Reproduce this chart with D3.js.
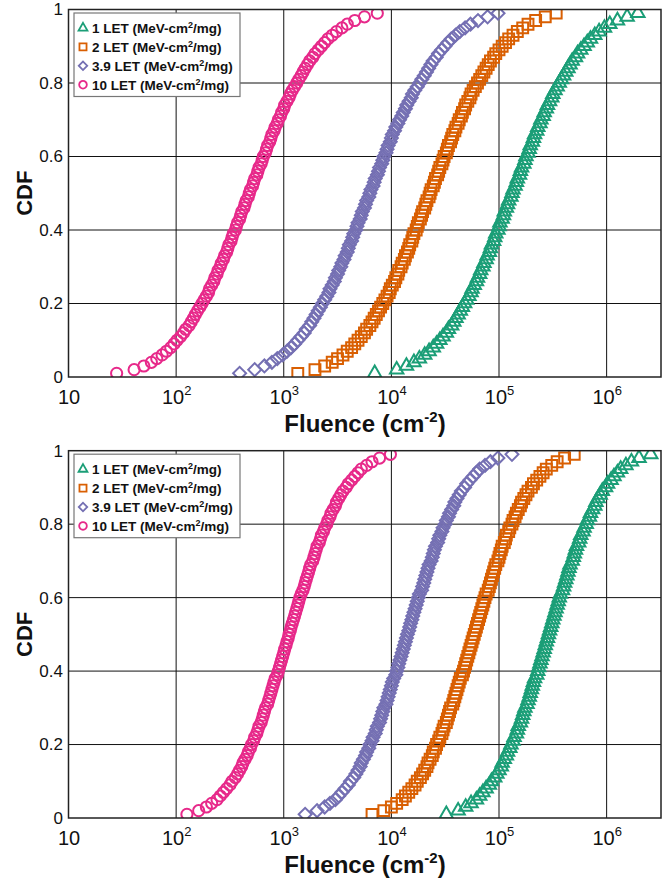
<!DOCTYPE html>
<meta charset="utf-8">
<style>
    body { margin: 0; background: #fff; }
    svg text { font-family: 'Liberation Sans', Arial, sans-serif; fill: #111; }
</style>
<svg width="672" height="882"></svg>
<script src="https://cdn.jsdelivr.net/npm/d3@7/dist/d3.min.js"></script>
<script>
    // cumulative probability of every plotted marker
    var cdfLevels = [0.01, 0.02, 0.03, 0.04, 0.05, 0.06, 0.07, 0.08, 0.09, 0.10,
        0.11, 0.12, 0.13, 0.14, 0.15, 0.16, 0.17, 0.18, 0.19, 0.20,
        0.21, 0.22, 0.23, 0.24, 0.25, 0.26, 0.27, 0.28, 0.29, 0.30,
        0.31, 0.32, 0.33, 0.34, 0.35, 0.36, 0.37, 0.38, 0.39, 0.40,
        0.41, 0.42, 0.43, 0.44, 0.45, 0.46, 0.47, 0.48, 0.49, 0.50,
        0.51, 0.52, 0.53, 0.54, 0.55, 0.56, 0.57, 0.58, 0.59, 0.60,
        0.61, 0.62, 0.63, 0.64, 0.65, 0.66, 0.67, 0.68, 0.69, 0.70,
        0.71, 0.72, 0.73, 0.74, 0.75, 0.76, 0.77, 0.78, 0.79, 0.80,
        0.81, 0.82, 0.83, 0.84, 0.85, 0.86, 0.87, 0.88, 0.89, 0.90,
        0.91, 0.92, 0.93, 0.94, 0.95, 0.96, 0.97, 0.98, 0.99];

    // fluence (cm^-2) for each cdf level, top panel
    var topLet1 = [7000, 11200, 13800, 16200, 18200, 20400, 22400, 24500, 26300, 28200, 30200, 32400, 33900, 36300, 38000, 39800, 41700, 43700, 45700, 47900, 50100, 52500, 55000, 56200, 58900, 61700, 63100, 66100, 67600, 70800, 72400, 75900, 77600, 81300, 83200, 85100, 89100, 91200, 93300, 97700, 100000, 102000, 107000, 110000, 112000, 117000, 120000, 123000, 129000, 132000,
        135000, 141000, 145000, 148000, 155000, 158000, 162000, 170000, 174000, 178000, 186000, 191000, 195000, 204000, 209000, 214000, 224000, 229000, 240000, 245000, 257000, 263000, 275000, 282000, 295000, 309000, 316000, 331000, 347000, 363000, 380000, 398000, 417000, 437000, 457000, 479000, 513000, 537000, 575000, 617000, 661000, 708000, 776000, 851000, 955000, 1070000, 1260000, 1550000, 1950000];
    var topLet2 = [1350, 1950, 2400, 2820, 3160, 3550, 3890, 4270, 4570, 4900, 5250, 5620, 5890, 6310, 6610, 6920, 7240, 7590, 7940, 8320, 8710, 9120, 9550, 9770, 10200, 10700, 11000, 11500, 11700, 12300, 12600, 13200, 13500, 14100, 14500, 14800, 15500, 15800, 16200, 17000, 17400, 17800, 18600, 19100, 19500, 20400, 20900, 21400, 22400, 22900,
        23400, 24500, 25100, 25700, 26900, 27500, 28200, 29500, 30200, 30900, 32400, 33100, 33900, 35500, 36300, 37200, 38900, 39800, 41700, 42700, 44700, 45700, 47900, 49000, 51300, 53700, 55000, 57500, 60300, 63100, 66100, 69200, 72400, 75900, 79400, 83200, 89100, 93300, 100000, 107000, 115000, 123000, 135000, 148000, 166000, 186000, 219000, 269000, 340000];
    var topLet39 = [389, 537, 661, 776, 871, 977, 1070, 1170, 1260, 1350, 1450, 1550, 1620, 1740, 1820, 1910, 2000, 2090, 2190, 2290, 2400, 2510, 2630, 2690, 2820, 2950, 3020, 3160, 3240, 3390, 3470, 3630, 3720, 3890, 3980, 4070, 4270, 4370, 4470, 4680, 4790, 4900, 5130, 5250, 5370, 5620, 5750, 5890, 6170, 6310,
        6460, 6760, 6920, 7080, 7410, 7590, 7760, 8130, 8320, 8510, 8910, 9120, 9330, 9770, 10000, 10200, 10700, 11000, 11500, 11900, 12500, 12900, 13500, 13900, 14600, 15300, 15700, 16500, 17400, 18300, 19200, 20200, 21200, 22200, 23300, 24400, 26100, 27400, 29300, 31400, 33600, 36000, 39500, 43200, 48400, 54300, 63800, 78300, 98000];
    var topLet10 = [28, 40.7, 50.1, 58.9, 66.1, 74.1, 81.3, 89.1, 95.5, 102, 110, 117, 123, 132, 138, 145, 151, 158, 166, 174, 182, 191, 200, 204, 214, 224, 229, 240, 245, 257, 263, 275, 282, 295, 302, 309, 324, 331, 339, 355, 363, 372, 389, 398, 407, 427, 437, 447, 468, 479,
        490, 513, 525, 537, 562, 575, 589, 617, 631, 646, 676, 692, 708, 741, 759, 776, 813, 832, 871, 891, 933, 955, 1000, 1020, 1070, 1120, 1150, 1200, 1260, 1320, 1380, 1450, 1510, 1580, 1660, 1740, 1860, 1950, 2090, 2240, 2400, 2570, 2820, 3090, 3470, 3890, 4570, 5620, 7400];

    // bottom panel
    var bottomLet1 = [32400, 41700, 49000, 55000, 61700, 66100, 70800, 75900, 81300, 85100, 91200, 95500, 100000, 105000, 107000, 112000, 117000, 120000, 126000, 129000, 135000, 138000, 145000, 148000, 151000, 158000, 162000, 166000, 170000, 174000, 182000, 186000, 191000, 195000, 200000, 204000, 209000, 214000, 224000, 229000, 234000, 240000, 245000, 251000, 257000, 263000, 269000, 275000, 282000, 288000,
        295000, 302000, 309000, 316000, 324000, 331000, 339000, 347000, 355000, 363000, 372000, 389000, 398000, 407000, 417000, 427000, 437000, 447000, 457000, 479000, 490000, 501000, 513000, 525000, 550000, 562000, 575000, 603000, 617000, 646000, 661000, 692000, 708000, 741000, 776000, 794000, 832000, 871000, 912000, 977000, 1020000, 1100000, 1170000, 1260000, 1350000, 1510000, 1700000, 2000000, 2570000];
    var bottomLet2 = [6610, 8510, 10000, 11200, 12600, 13500, 14500, 15500, 16600, 17400, 18600, 19500, 20400, 21400, 21900, 22900, 24000, 24500, 25700, 26300, 27500, 28200, 29500, 30200, 30900, 32400, 33100, 33900, 34700, 35500, 37200, 38000, 38900, 39800, 40700, 41700, 42700, 43700, 45700, 46800, 47900, 49000, 50100, 51300, 52500, 53700, 55000, 56200, 57500, 58900,
        60300, 61700, 63100, 64600, 66100, 67600, 69200, 70800, 72400, 74100, 75900, 79400, 81300, 83200, 85100, 87100, 89100, 91200, 93300, 97700, 100000, 102000, 105000, 107000, 112000, 115000, 117000, 123000, 126000, 132000, 135000, 141000, 145000, 151000, 158000, 162000, 170000, 178000, 186000, 200000, 209000, 224000, 240000, 257000, 275000, 309000, 347000, 407000, 500000];
    var bottomLet39 = [1580, 2040, 2400, 2690, 3020, 3240, 3470, 3720, 3980, 4170, 4470, 4680, 4900, 5130, 5250, 5500, 5750, 5890, 6170, 6310, 6610, 6760, 7080, 7240, 7410, 7760, 7940, 8130, 8320, 8510, 8910, 9120, 9330, 9550, 9770, 10000, 10200, 10500, 11000, 11200, 11500, 11700, 12000, 12300, 12600, 12900, 13200, 13500, 13800, 14100,
        14500, 14800, 15100, 15500, 15800, 16200, 16600, 17000, 17400, 17800, 18200, 19100, 19500, 20000, 20400, 20900, 21400, 21900, 22400, 23400, 24000, 24500, 25100, 25700, 26900, 27500, 28200, 29500, 30200, 31600, 32400, 33900, 34700, 36300, 38000, 38900, 40700, 42700, 44700, 47900, 50100, 53700, 57500, 61700, 66100, 74100, 83200, 97700, 132000];
    var bottomLet10 = [126, 162, 191, 214, 240, 257, 275, 295, 316, 331, 355, 372, 389, 407, 417, 437, 457, 468, 490, 501, 525, 537, 562, 575, 589, 617, 631, 646, 661, 676, 708, 724, 741, 759, 776, 794, 813, 832, 871, 891, 912, 933, 955, 977, 1000, 1020, 1050, 1070, 1100, 1120,
        1150, 1170, 1200, 1230, 1260, 1290, 1320, 1350, 1380, 1410, 1450, 1510, 1550, 1580, 1620, 1660, 1700, 1740, 1780, 1860, 1910, 1950, 2000, 2040, 2140, 2190, 2240, 2340, 2400, 2510, 2570, 2690, 2750, 2880, 3020, 3090, 3240, 3390, 3550, 3800, 3980, 4270, 4570, 4900, 5250, 5890, 6610, 7760, 9800];

    var letNames = ["1", "2", "3.9", "10"];
    var colors = ["#1b9e77", "#d95f02", "#7570b3", "#e7298a"];
    var xTickValues = [10, 1e2, 1e3, 1e4, 1e5, 1e6];
    var xTickExponents = [1, 2, 3, 4, 5, 6];
    var yTickValues = [0, 0.2, 0.4, 0.6, 0.8, 1];
    var yTickLabels = ["0", "0.2", "0.4", "0.6", "0.8", "1"];

    var svg = d3.select("svg");

    var x = d3.scaleLog()
        .domain([10, 3.2e6])
        .range([68.5, 661]);

    // triangle, square, diamond (rotated square), circle
    var markers = [
        { type: d3.symbolTriangle, size: 78, rot: 0, legendSize: 34 },
        { type: d3.symbolSquare, size: 118, rot: 0, legendSize: 50 },
        { type: d3.symbolSquare, size: 84, rot: 45, legendSize: 36 },
        { type: d3.symbolCircle, size: 98, rot: 0, legendSize: 46 }
    ];

    function drawPanel(top, height, series, id) {
        var y = d3.scaleLinear().domain([0, 1]).range([height, 0]);
        var g = svg.append("g").attr("transform", "translate(0," + top + ")");

        g.append("clipPath").attr("id", id)
            .append("rect")
            .attr("x", x.range()[0]).attr("y", 0)
            .attr("width", x.range()[1] - x.range()[0]).attr("height", height);

        // grid
        g.append("g").selectAll("line")
            .data(xTickValues.slice(1))
            .enter().append("line")
            .attr("x1", function (d) { return x(d); })
            .attr("x2", function (d) { return x(d); })
            .attr("y1", 0).attr("y2", height)
            .attr("stroke", "#111").attr("stroke-width", 1);

        g.append("g").selectAll("line")
            .data(yTickValues.slice(1, -1))
            .enter().append("line")
            .attr("x1", x.range()[0]).attr("x2", x.range()[1])
            .attr("y1", function (d) { return y(d); })
            .attr("y2", function (d) { return y(d); })
            .attr("stroke", "#111").attr("stroke-width", 1);

        // markers
        var plot = g.append("g").attr("clip-path", "url(#" + id + ")");
        series.forEach(function (values, s) {
            var m = markers[s];
            var sym = d3.symbol().type(m.type).size(m.size);
            plot.append("g")
                .selectAll("path")
                .data(cdfLevels)
                .enter().append("path")
                .attr("d", sym)
                .attr("transform", function (d, i) {
                    return "translate(" + x(values[i]) + "," + y(d) + ") rotate(" + m.rot + ")";
                })
                .attr("fill", "none")
                .attr("stroke", colors[s])
                .attr("stroke-width", 2);
        });

        // frame
        g.append("rect")
            .attr("x", x.range()[0]).attr("y", 0)
            .attr("width", x.range()[1] - x.range()[0]).attr("height", height)
            .attr("fill", "none").attr("stroke", "#222").attr("stroke-width", 1.5);

        // x axis labels
        var xAxis = g.append("g")
            .attr("transform", "translate(0," + height + ")")
            .call(d3.axisBottom(x).tickValues(xTickValues).tickSize(0).tickFormat(function () { return "10"; }));
        xAxis.select(".domain").remove();
        xAxis.selectAll("text")
            .attr("y", 27).attr("dy", 0)
            .attr("font-size", 20)
            .attr("fill", "#111")
            .style("font-family", "'Liberation Sans', Arial, sans-serif")
            .each(function (d, i) {
                if (xTickExponents[i] > 1) {
                    d3.select(this).append("tspan")
                        .attr("dy", -9)
                        .attr("font-size", 13)
                        .text(xTickExponents[i]);
                }
            });

        // y axis labels
        var yAxis = g.append("g")
            .attr("transform", "translate(" + x.range()[0] + ",0)")
            .call(d3.axisLeft(y).tickValues(yTickValues).tickSize(0).tickPadding(5.5)
                .tickFormat(function (d, i) { return yTickLabels[i]; }));
        yAxis.select(".domain").remove();
        yAxis.selectAll("text")
            .attr("font-size", 17)
            .attr("fill", "#111")
            .style("font-family", "'Liberation Sans', Arial, sans-serif");

        // axis titles
        g.append("text")
            .attr("transform", "translate(32," + (height / 2) + ") rotate(-90)")
            .attr("text-anchor", "middle")
            .attr("font-size", 22)
            .attr("font-weight", "bold")
            .text("CDF");

        var xt = g.append("text")
            .attr("x", 365).attr("y", height + 55)
            .attr("text-anchor", "middle")
            .attr("font-size", 24)
            .attr("font-weight", "bold");
        xt.append("tspan").text("Fluence (cm");
        xt.append("tspan").attr("dy", -10).attr("font-size", 15).text("-2");
        xt.append("tspan").attr("dy", 10).text(")");

        // legend
        var legend = g.append("g").attr("transform", "translate(74,3.5)");
        legend.append("rect")
            .attr("width", 166).attr("height", 83.5)
            .attr("fill", "#fff").attr("stroke", "#777").attr("stroke-width", 1.2);

        letNames.forEach(function (name, s) {
            var m = markers[s];
            var rowY = 15 + s * 18.9;
            legend.append("path")
                .attr("d", d3.symbol().type(m.type).size(m.legendSize))
                .attr("transform", "translate(9," + rowY + ") rotate(" + m.rot + ")")
                .attr("fill", "none")
                .attr("stroke", colors[s])
                .attr("stroke-width", 1.8);
            var t = legend.append("text")
                .attr("x", 18).attr("y", rowY + 5)
                .attr("font-size", 13.5)
                .attr("font-weight", "bold");
            t.append("tspan").text(name + " LET (MeV-cm");
            t.append("tspan").attr("dy", -5).attr("font-size", 9).text("2");
            t.append("tspan").attr("dy", 5).text("/mg)");
        });
    }

    drawPanel(9.5, 367.5, [topLet1, topLet2, topLet39, topLet10], "clipTop");
    drawPanel(450.7, 367.3, [bottomLet1, bottomLet2, bottomLet39, bottomLet10], "clipBottom");
</script>
